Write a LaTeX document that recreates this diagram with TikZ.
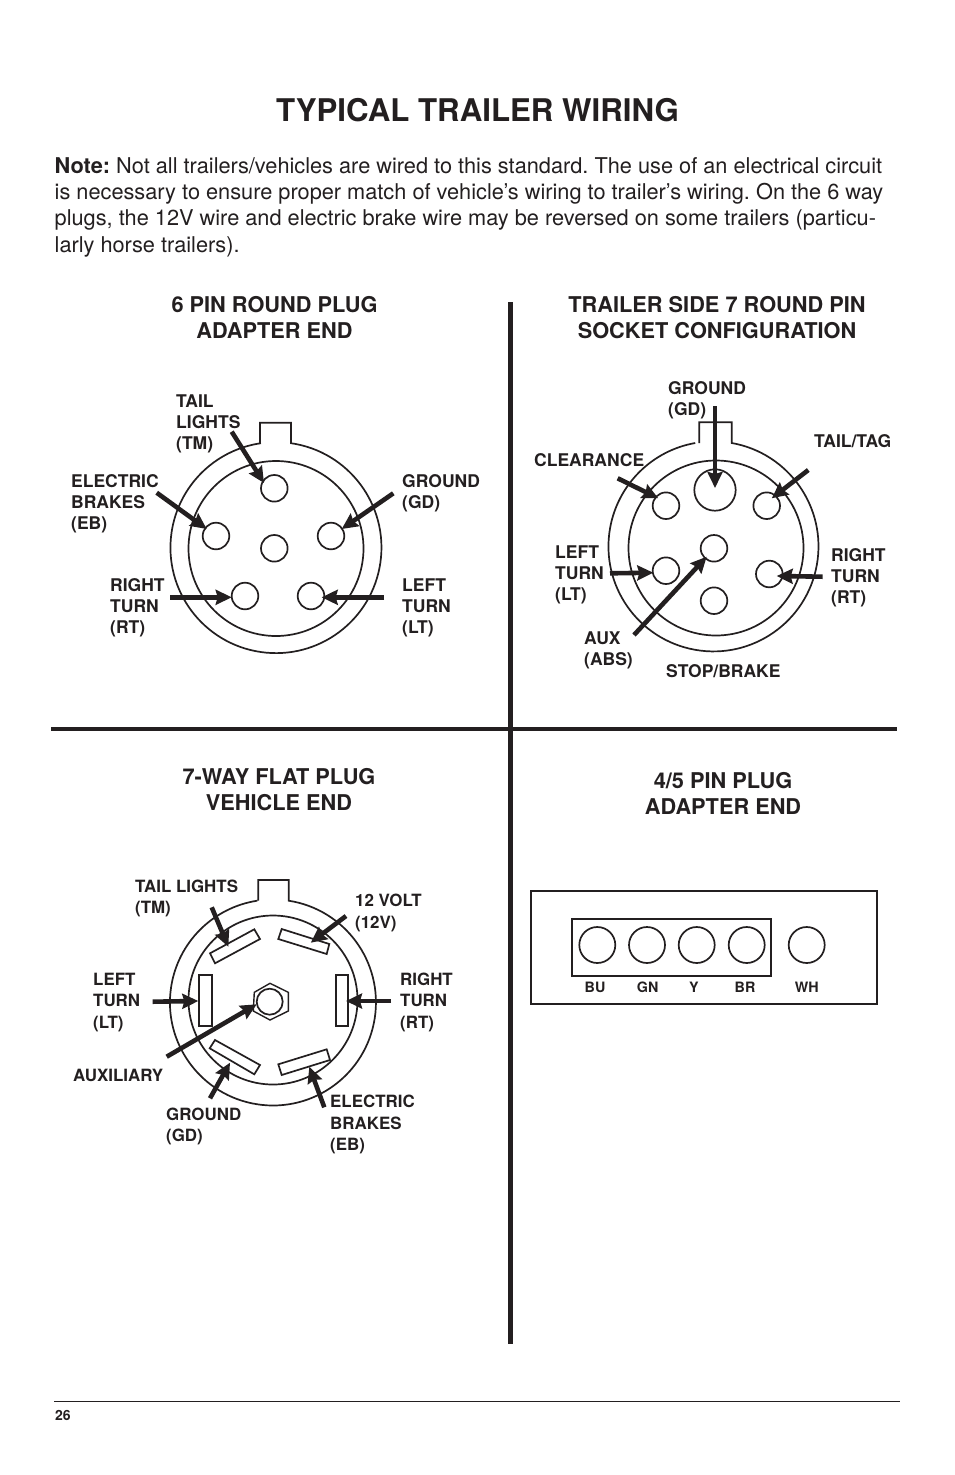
\documentclass[tikz,border=0pt]{standalone}
\usepackage{fontspec}
\setmainfont{TeX Gyre Heros}
\usetikzlibrary{arrows.meta}
\definecolor{ink}{HTML}{231F20}
\frenchspacing
\tikzset{
  ring/.style={draw=ink,line width=1.7pt},
  pin/.style={draw=ink,line width=1.7pt,fill=white},
  wire/.style={draw=ink,line width=4.6pt,-{Stealth[length=16pt,width=15pt,inset=2pt]},color=ink},
  lab/.style={anchor=base west,align=left,inner sep=0pt,text=ink,font=\fontsize{17.5}{21}\selectfont\bfseries},
  labf/.style={anchor=base west,align=left,inner sep=0pt,text=ink,font=\fontsize{16.9}{21.3}\selectfont\bfseries},
  head/.style={anchor=base,align=center,inner sep=0pt,text=ink,font=\fontsize{21.75}{26}\selectfont\bfseries},
  sock/.style={anchor=base,inner sep=0pt,text=ink,font=\fontsize{14.3}{17}\selectfont\bfseries},
  rule/.style={draw=ink,line width=4.6pt}
}
\newcommand{\wireto}[5]{\coordinate (#1a) at (#2,#3);\coordinate (#1b) at (#4,#5);\draw[wire] (#1a) -- (#1b);}
\newcommand{\roundpin}[4]{\draw[pin] (#2,#3) circle (#4pt) node[inner sep=0pt] (#1) {};}
\begin{document}
\begin{tikzpicture}[x=1pt,y=-1pt]
\useasboundingbox (0,0) rectangle (954,1475);
\fill[white] (0,0) rectangle (954,1475);

% page text
\node[anchor=base,inner sep=0pt,text=ink,font=\fontsize{31.25}{36}\selectfont\bfseries] (title) at (477.5,121) {TYPICAL TRAILER WIRING};
\node[anchor=base west,align=left,inner sep=0pt,text=ink,font=\fontsize{21.75}{26.3}\selectfont] (note) at (54.5,252) {\textbf{Note:} Not all trailers/vehicles are wired to this standard. The use of an electrical circuit\\
is necessary to ensure proper match of vehicle’s wiring to trailer’s wiring. On the 6 way\\
plugs, the 12V wire and electric brake wire may be reversed on some trailers (particu-\\
larly horse trailers).};
\node[head] (h1) at (274.5,338) {6 PIN ROUND PLUG\\ADAPTER END};
\node[head] (h2) at (717,338) {TRAILER SIDE 7 ROUND PIN\\SOCKET CONFIGURATION};
\node[head] (h3) at (279,810) {7-WAY FLAT PLUG\\VEHICLE END};
\node[head] (h4) at (723,814) {4/5 PIN PLUG\\ADAPTER END};

% rules
\coordinate (vt) at (510.5,302); \coordinate (vb) at (510.5,1344);
\coordinate (hl) at (51,729); \coordinate (hr) at (897,729);
\draw[rule] (vt) -- (vb);
\draw[rule] (hl) -- (hr);
\coordinate (fl) at (54,1401.5); \coordinate (fr) at (900,1401.5);
\draw[draw=ink,line width=1pt] (fl) -- (fr);
\node[anchor=base west,inner sep=0pt,text=ink,font=\fontsize{14}{17}\selectfont\bfseries] (page) at (55,1420) {26};

% 6 pin round plug
\draw[ring] (260,443.2) -- (260,422.7) -- (291,422.7) -- (291,443.2)
  arc[start angle=-81.8,end angle=261.8,x radius=105.5pt,y radius=-105.5pt];
\draw[ring] (276,548.5) circle (87.5pt);
\roundpin{a1}{274.3}{488.3}{13.3}
\roundpin{a2}{216}{536}{13.3}
\roundpin{a3}{331}{536}{13.3}
\roundpin{a4}{274.3}{548.3}{13.3}
\roundpin{a5}{245}{596}{13.3}
\roundpin{a6}{311}{596}{13.3}
\wireto{wa1}{231.7}{431.7}{264}{483}
\wireto{wa2}{156.7}{492.7}{206.7}{529}
\wireto{wa3}{393.3}{493.3}{341.7}{529}
\wireto{wa4}{170}{597.3}{231.7}{597.3}
\wireto{wa5}{384}{597.3}{321.7}{597.3}
\node[lab] (la1) at (176,449) {TAIL\\LIGHTS\\(TM)};
\node[lab] (la2) at (71,529) {ELECTRIC\\BRAKES\\(EB)};
\node[lab] (la3) at (402,508) {GROUND\\(GD)};
\node[lab] (la4) at (110,633) {RIGHT\\TURN\\(RT)};
\node[lab] (la5) at (402,633) {LEFT\\TURN\\(LT)};

% 7 round pin socket
\draw[ring] (699.3,443) -- (699.3,422.3) -- (731.7,422.3) -- (731.7,443)
  arc[start angle=-80,end angle=260,x radius=105pt,y radius=-105pt];
\draw[ring] (716,548) circle (87.5pt);
\roundpin{b1}{715}{490}{20.7}
\roundpin{b2}{666}{505.7}{13.3}
\roundpin{b3}{766.7}{505.7}{13.3}
\roundpin{b4}{714}{548.3}{13.3}
\roundpin{b5}{666}{570.7}{13.3}
\roundpin{b6}{769.3}{574}{13.3}
\roundpin{b7}{714}{600.7}{13.3}
\wireto{wb1}{715}{406}{715}{488}
\wireto{wb2}{617.7}{478.3}{658.3}{498.3}
\wireto{wb3}{808.3}{470}{771.7}{498.3}
\wireto{wb4}{610}{573.3}{653.3}{572.7}
\wireto{wb5}{822.7}{576.7}{776.7}{576}
\wireto{wb6}{634}{635}{706.7}{556.7}
\node[lab] (lb1) at (668,415) {GROUND\\(GD)};
\node[lab] (lb2) at (534,466) {CLEARANCE};
\node[lab] (lb3) at (814,447) {TAIL/TAG};
\node[lab] (lb4) at (555,600) {LEFT\\TURN\\(LT)};
\node[lab] (lb5) at (831,603) {RIGHT\\TURN\\(RT)};
\node[lab] (lb6) at (584,665) {AUX\\(ABS)};
\node[lab] (lb7) at (666,677) {STOP/BRAKE};

% 7-way flat plug
\draw[ring] (258.3,900.7) -- (258.3,880) -- (288.7,880) -- (288.7,900.7)
  arc[start angle=-81.2,end angle=261.2,x radius=103pt,y radius=-103pt];
\draw[ring] (273,1000) circle (84.5pt);
\draw[pin] (199.3,975) rectangle (211.7,1025.7);
\draw[pin] (336,975) rectangle (348.3,1025.7);
\draw[pin] (210,953.3) -- (254.3,929.3) -- (260,939) -- (215,963.3) -- cycle;
\draw[pin] (281.7,929) -- (329.3,944) -- (326.7,954) -- (278.3,939) -- cycle;
\draw[pin] (209.7,1048.3) -- (215,1040) -- (260,1065) -- (254.3,1074.3) -- cycle;
\draw[pin] (278.3,1064.3) -- (326.7,1049.3) -- (330,1060) -- (281.7,1075) -- cycle;
\draw[draw=ink,line width=1.4pt,fill=white] (270,983.3) -- (288.3,992.3) -- (288.3,1011) -- (270,1020) -- (253.3,1011) -- (254.3,992.3) -- cycle;
\draw[pin] (269.7,1001.7) circle (13pt);
\wireto{wc1}{211.7}{907.3}{228.3}{946.7}
\wireto{wc2}{346}{916}{310.7}{942.7}
\wireto{wc3}{152.7}{1001.7}{198.3}{1001}
\wireto{wc4}{391}{1001}{346}{1001}
\wireto{wc5}{166.7}{1056.7}{256.7}{1004.3}
\wireto{wc6}{210}{1098.3}{230}{1062.7}
\wireto{wc7}{324.3}{1107.3}{309.3}{1066.7}
\node[labf] (lc1) at (135,913.5) {TAIL LIGHTS\\(TM)};
\node[labf] (lc2) at (355,928) {12 VOLT\\(12V)};
\node[labf] (lc3) at (93,1028) {LEFT\\TURN\\(LT)};
\node[labf] (lc4) at (400,1028) {RIGHT\\TURN\\(RT)};
\node[labf] (lc5) at (73,1081) {AUXILIARY};
\node[labf] (lc6) at (166,1141.5) {GROUND\\(GD)};
\node[labf] (lc7) at (330,1150.5) {ELECTRIC\\BRAKES\\(EB)};

% 4/5 pin plug
\node[draw=ink,line width=1.8pt,minimum width=346.6pt,minimum height=113.3pt,inner sep=0pt] (outerbox) at (704,947.3) {};
\node[draw=ink,line width=1.8pt,minimum width=199pt,minimum height=57pt,inner sep=0pt] (innerbox) at (671.2,947.5) {};
\roundpin{d1}{597.3}{945}{18}
\roundpin{d2}{647}{945}{18}
\roundpin{d3}{696.7}{945}{18}
\roundpin{d4}{746.7}{945}{18}
\roundpin{d5}{806.7}{945}{18}
\node[sock] (ld1) at (595,992) {BU};
\node[sock] (ld2) at (647.7,992) {GN};
\node[sock] (ld3) at (694,992) {Y};
\node[sock] (ld4) at (745,992) {BR};
\node[sock] (ld5) at (806.7,992) {WH};
\end{tikzpicture}
\end{document}
